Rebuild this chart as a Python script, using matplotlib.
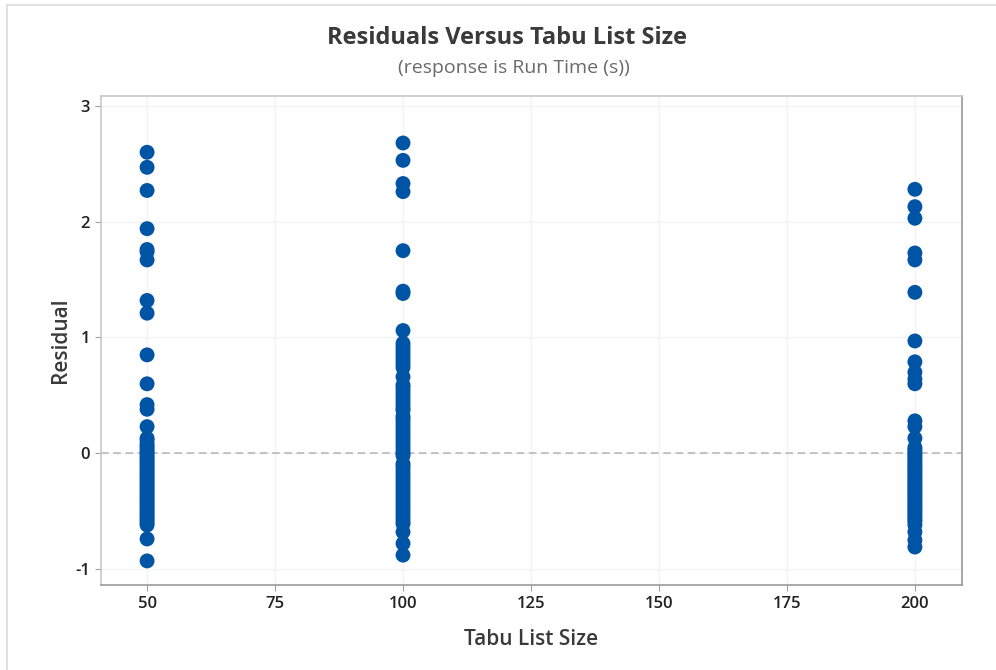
import matplotlib.pyplot as plt
from matplotlib.lines import Line2D

plt.rcParams['font.family'] = ['Open Sans', 'DejaVu Sans']
plt.rcParams['axes.unicode_minus'] = False

# residuals of the run-time model, grouped by tabu list size
tabu_sizes = [50, 100, 200]

resid_50 = [2.60, 2.47, 2.27, 1.94, 1.76, 1.74, 1.67, 1.32, 1.21, 0.85, 0.60,
            0.42, 0.38, 0.23, 0.13, 0.11, 0.08, 0.06, 0.04, 0.02, 0.00,
            -0.02, -0.04, -0.06, -0.08, -0.10, -0.12, -0.14, -0.16, -0.18,
            -0.20, -0.22, -0.24, -0.26, -0.28, -0.30, -0.32, -0.34, -0.36,
            -0.38, -0.40, -0.42, -0.44, -0.46, -0.48, -0.50, -0.52, -0.54,
            -0.56, -0.58, -0.60, -0.62, -0.74, -0.93]

resid_100 = [2.68, 2.53, 2.33, 2.26, 1.75, 1.40, 1.38, 1.06, 0.95, 0.92,
             0.89, 0.86, 0.83, 0.80, 0.77, 0.74, 0.66, 0.59, 0.57, 0.54,
             0.51, 0.48, 0.45, 0.42, 0.39, 0.37, 0.32, 0.30, 0.27, 0.24,
             0.21, 0.18, 0.15, 0.12, 0.09, 0.06, 0.03, 0.00, -0.02, -0.09,
             -0.11, -0.14, -0.17, -0.20, -0.23, -0.26, -0.29, -0.32, -0.35,
             -0.38, -0.41, -0.44, -0.47, -0.50, -0.53, -0.56, -0.59, -0.61,
             -0.68, -0.78, -0.88]

resid_200 = [2.28, 2.13, 2.03, 1.73, 1.67, 1.39, 0.97, 0.79, 0.70, 0.64,
             0.60, 0.28, 0.23, 0.13, 0.05, 0.03, 0.01, -0.01, -0.03, -0.05,
             -0.07, -0.09, -0.11, -0.13, -0.15, -0.17, -0.19, -0.21, -0.23,
             -0.25, -0.27, -0.29, -0.31, -0.33, -0.35, -0.37, -0.39, -0.41,
             -0.43, -0.45, -0.47, -0.49, -0.51, -0.53, -0.55, -0.57, -0.59,
             -0.62, -0.68, -0.75, -0.81]

x_ticks = [50, 75, 100, 125, 150, 175, 200]
y_ticks = [-1, 0, 1, 2, 3]

fig = plt.figure(figsize=(9.96, 6.70), dpi=100)
ax = fig.add_axes([101 / 996, 1 - 585 / 670, 861 / 996, 489 / 670])

for size, resid in zip(tabu_sizes, [resid_50, resid_100, resid_200]):
    ax.scatter([size] * len(resid), resid, s=115, color='#0054a6',
               edgecolors='none', zorder=3)

ax.axhline(0, color='#b4b4b4', linestyle=(0, (5, 3)), linewidth=1.1, zorder=2)

ax.set_xlim(41.0, 209.2)
ax.set_ylim(-1.138, 3.086)
ax.set_xticks(x_ticks)
ax.set_yticks(y_ticks)
ax.grid(True, color='#f3f3f3', linewidth=1.0, zorder=0)
ax.set_axisbelow(True)

for side in ['left', 'top']:
    ax.spines[side].set_color('#c8c8c8')
for side in ['right', 'bottom']:
    ax.spines[side].set_color('#9a9a9a')
for sp in ax.spines.values():
    sp.set_linewidth(1.2)

ax.tick_params(axis='both', length=4, width=0.8, color='#a0a0a0',
               labelsize=12, labelcolor='#222222', pad=4)
for lbl in ax.get_xticklabels() + ax.get_yticklabels():
    lbl.set_fontweight('semibold')

ax.set_xlabel('Tabu List Size', fontsize=15, color='#3a3a3a',
              fontweight='semibold', labelpad=12)
ax.set_ylabel('Residual', fontsize=15, color='#3a3a3a',
              fontweight='semibold', labelpad=3)

fig.text(507 / 996, 1 - 38 / 670, 'Residuals Versus Tabu List Size',
         ha='center', va='center', fontsize=17, fontweight='bold',
         color='#3a3a3a')
fig.text(514 / 996, 1 - 68 / 670, '(response is Run Time (s))',
         ha='center', va='center', fontsize=14, color='#6a6a6a')

# thin frame along the left and top edges
fig.add_artist(Line2D([7 / 996, 7 / 996], [0, 1 - 5 / 670],
                      color='#dcdcdc', linewidth=1.2))
fig.add_artist(Line2D([7 / 996, 1], [1 - 5 / 670, 1 - 5 / 670],
                      color='#dcdcdc', linewidth=1.2))

fig.savefig('out.png', dpi=100)
